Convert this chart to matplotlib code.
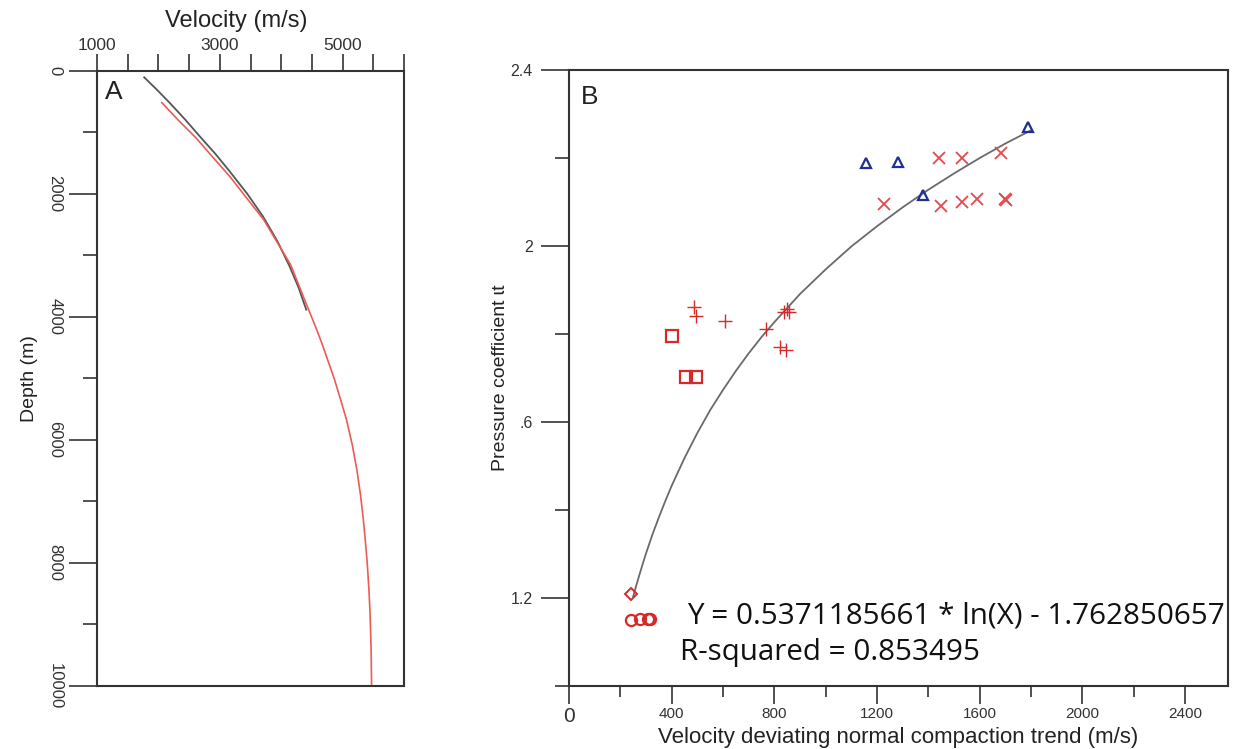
import numpy as np
import matplotlib
matplotlib.use("Agg")
import matplotlib.pyplot as plt

plt.rcParams['font.family'] = ['Liberation Sans', 'DejaVu Sans']

# ---------------- panel A : velocity vs depth ----------------
vel_black = [1768, 1979, 2190, 2441, 2677, 2928, 3163, 3447, 3704, 3934, 4137, 4283, 4408]
dep_black = [107, 313, 529, 800, 1071, 1352, 1639, 2001, 2370, 2764, 3181, 3527, 3884]

vel_red = [2055, 2320, 2612, 2882, 3163, 3715, 4153, 4446, 4559, 4670, 4868, 4967,
           5062, 5156, 5231, 5290, 5337, 5372, 5402, 5428, 5446, 5464, 5471]
dep_red = [519, 800, 1092, 1401, 1720, 2423, 3153, 3884, 4161, 4452, 5020, 5345,
           5669, 6075, 6481, 6886, 7292, 7665, 8023, 8429, 8802, 9402, 9970]

# ---------------- panel B : pressure coefficient ----------------
fit_x = [250, 260, 270, 285, 300, 325, 350, 375, 400, 450, 500, 550, 600, 650, 700,
         750, 800, 900, 1000, 1100, 1200, 1300, 1400, 1500, 1600, 1700, 1800]
fit_y = [1.203, 1.224, 1.244, 1.273, 1.301, 1.344, 1.383, 1.420, 1.455, 1.518, 1.575,
         1.627, 1.673, 1.716, 1.756, 1.793, 1.827, 1.891, 1.947, 1.999, 2.045, 2.088,
         2.128, 2.165, 2.200, 2.233, 2.263]

tri_x = [1156, 1283, 1378, 1789]
tri_y = [2.189, 2.192, 2.116, 2.270]

cross_x = [1441, 1530, 1683, 1228, 1449, 1532, 1588, 1700, 1703]
cross_y = [2.201, 2.201, 2.211, 2.095, 2.092, 2.099, 2.107, 2.107, 2.105]

plus_x = [488, 495, 608, 767, 848, 838, 858, 822, 844]
plus_y = [1.862, 1.841, 1.830, 1.811, 1.858, 1.851, 1.851, 1.770, 1.764]

sq_x = [400, 456, 495]
sq_y = [1.795, 1.702, 1.702]

dia_x = [242]
dia_y = [1.209]

circ_x = [240, 277, 308, 315]
circ_y = [1.150, 1.152, 1.152, 1.152]

eq_text = "Y = 0.5371185661 * ln(X) - 1.762850657"
r2_text = "R-squared = 0.853495"

spine_col = '#333333'
red = '#d62a2a'

fig = plt.figure(figsize=(12.39, 7.49), dpi=100)

# =============================================================================
ax = fig.add_axes([0.0783, 0.0841, 0.2478, 0.8215])
ax.plot(vel_black, dep_black, color='#555555', lw=1.3)
ax.plot(vel_red, dep_red, color='#ee5a55', lw=1.2)
ax.set_xlim(1000, 6000)
ax.set_ylim(10000, 0)
ax.xaxis.tick_top()
ax.xaxis.set_label_position('top')
ax.set_xticks([1000, 3000, 5000])
ax.set_xticks(np.arange(1000, 6001, 500), minor=True)
ax.set_yticks(np.arange(0, 10001, 2000))
ax.set_yticks(np.arange(1000, 10000, 2000), minor=True)
ax.tick_params(axis='x', which='both', direction='out', length=12, width=1.2,
               colors=spine_col, labelsize=12.5, pad=1)
ax.tick_params(axis='y', which='major', direction='out', length=20, width=1.2,
               colors=spine_col, labelsize=12, pad=5)
ax.tick_params(axis='y', which='minor', direction='out', length=10, width=1.2,
               colors=spine_col)
for lab in ax.get_yticklabels():
    lab.set_rotation(-90)
    lab.set_va('center')
for s in ax.spines.values():
    s.set_color(spine_col)
    s.set_linewidth(1.5)
ax.set_xlabel("Velocity (m/s)", fontsize=17, color='#222222')
ax.xaxis.set_label_coords(0.454, 1.08)
ax.xaxis.label.set_va('center')
ax.set_ylabel("Depth (m)", fontsize=14, labelpad=7, color='#222222')
ax.text(0.025, 0.985, "A", transform=ax.transAxes, fontsize=19, va='top', ha='left',
        color='#222222')

# =============================================================================
bx = fig.add_axes([0.4592, 0.0841, 0.5319, 0.8224])
bx.plot(fit_x, fit_y, color='#6a6a6a', lw=1.3, zorder=2)
bx.plot(tri_x, tri_y, '^', ms=7, mfc='none', mec='#1f2f96', mew=1.6, ls='none')
bx.plot(cross_x, cross_y, 'x', ms=9, mec='#e5484d', mew=1.3, ls='none')
bx.plot(plus_x, plus_y, '+', ms=10, mec=red, mew=1.0, ls='none')
bx.plot(sq_x, sq_y, 's', ms=9, mfc='none', mec=red, mew=1.6, ls='none')
bx.plot(dia_x, dia_y, 'D', ms=6, mfc='none', mec=red, mew=1.4, ls='none')
bx.plot(circ_x, circ_y, 'o', ms=8, mfc='none', mec=red, mew=1.6, ls='none')

bx.set_xlim(0, 2567)
bx.set_ylim(1.0, 2.4)
bx.set_xticks(np.arange(0, 2401, 400))
bx.set_xticks(np.arange(200, 2401, 400), minor=True)
bx.set_yticks([1.2, 1.6, 2.0, 2.4])
bx.set_yticklabels(['1.2', '.6', '2', '2.4'])
bx.set_yticks([1.0, 1.4, 1.8, 2.2], minor=True)
bx.tick_params(axis='x', which='major', direction='out', length=13, width=1.2,
               colors=spine_col, labelsize=11, pad=2)
bx.tick_params(axis='x', which='minor', direction='out', length=8, width=1.2,
               colors=spine_col)
bx.tick_params(axis='y', which='major', direction='out', length=20, width=1.2,
               colors=spine_col, labelsize=11.5, pad=6)
bx.tick_params(axis='y', which='minor', direction='out', length=10, width=1.2,
               colors=spine_col)
bx.get_xticklabels()[0].set_fontsize(15)
for s in bx.spines.values():
    s.set_color(spine_col)
    s.set_linewidth(1.5)
bx.set_xlabel("Velocity deviating normal compaction trend (m/s)", fontsize=16,
              color='#222222')
bx.xaxis.set_label_coords(0.5, -0.083)
bx.xaxis.label.set_va('center')
bx.set_ylabel("Pressure coefficient \u0269t", fontsize=14, labelpad=1, color='#222222')
bx.text(0.018, 0.975, "B", transform=bx.transAxes, fontsize=19, va='top', ha='left',
        color='#222222')
bx.text(0.179, 0.114, eq_text, transform=bx.transAxes, fontsize=21.3, va='center',
        ha='left', family=['Open Sans', 'DejaVu Sans'], color='#111111')
bx.text(0.168, 0.055, r2_text, transform=bx.transAxes, fontsize=21.3, va='center',
        ha='left', family=['Open Sans', 'DejaVu Sans'], color='#111111')

fig.savefig("out.png", dpi=100)
